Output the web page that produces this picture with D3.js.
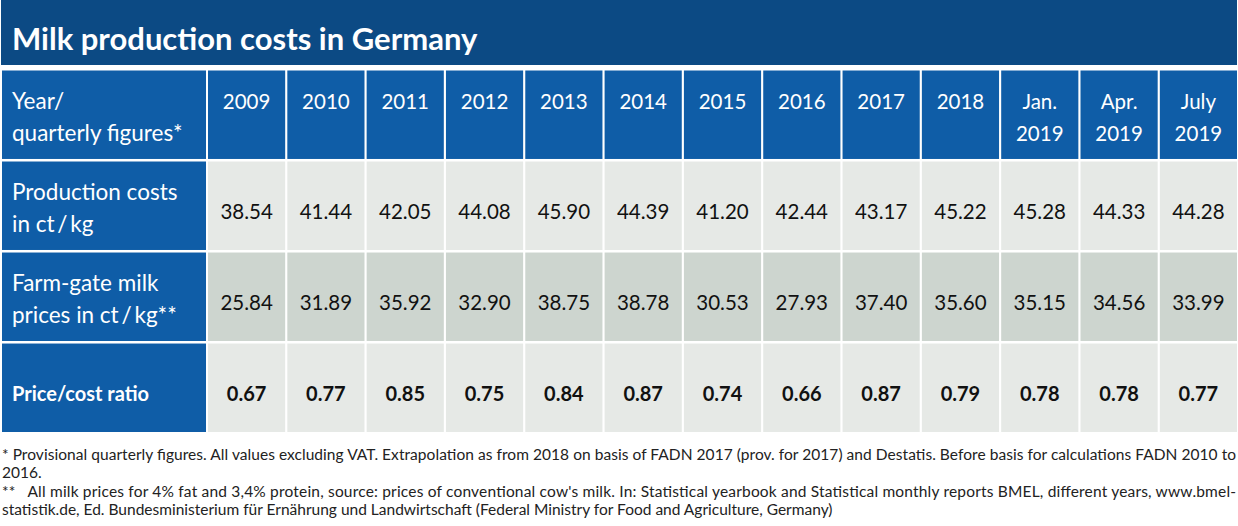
<!DOCTYPE html>
<html>
<head>
<meta charset="utf-8">
<script src="https://cdn.jsdelivr.net/npm/d3@7"></script>
<style>
  body { margin: 0; background: #fff; }
  svg { display: block; font-family: Lato, "Open Sans", sans-serif; }
</style>
</head>
<body>
<div id="chart"></div>
<script>
// DATA -----------------------------------------------------------------------

var title = "Milk production costs in Germany";
var columnLabels = [["2009"], ["2010"], ["2011"], ["2012"], ["2013"], ["2014"],
    ["2015"], ["2016"], ["2017"], ["2018"], ["Jan.", "2019"], ["Apr.", "2019"], ["July", "2019"]];
var rowLabels = [
    ["Year/", "quarterly figures*"],
    ["Production costs", "in ct\u2009/\u2009kg"],
    ["Farm-gate milk", "prices in ct\u2009/\u2009kg**"],
    ["Price/cost ratio"]
];
var productionCosts = [38.54, 41.44, 42.05, 44.08, 45.90, 44.39, 41.20, 42.44, 43.17, 45.22, 45.28, 44.33, 44.28];
var milkPrices = [25.84, 31.89, 35.92, 32.90, 38.75, 38.78, 30.53, 27.93, 37.40, 35.60, 35.15, 34.56, 33.99];
var priceCostRatio = [0.67, 0.77, 0.85, 0.75, 0.84, 0.87, 0.74, 0.66, 0.87, 0.79, 0.78, 0.78, 0.77];
var footnotes = [
    { text: "* Provisional quarterly figures. All values excluding VAT. Extrapolation as from 2018 on basis of FADN 2017 (prov. for 2017) and Destatis. Before basis for calculations FADN 2010 to", justify: true },
    { text: "2016.", justify: false },
    { text: "**\u00a0\u00a0 All milk prices for 4% fat and 3,4% protein, source: prices of conventional cow's milk. In: Statistical yearbook and Statistical monthly reports BMEL, different years, www.bmel-", justify: true },
    { text: "statistik.de, Ed. Bundesministerium für Ernährung und Landwirtschaft (Federal Ministry for Food and Agriculture, Germany)", justify: false }
];


// LAYOUT ---------------------------------------------------------------------

var width = 1238, height = 526;
var blueDark = "#0c4a84", blue = "#0f5da7", grayLight = "#e6e9e6", grayMid = "#cdd5cf";
var rowFills = [blue, grayLight, grayMid, grayLight];
var dataRows = [null, productionCosts, milkPrices, priceCostRatio];
var fmt = d3.format(".2f");

var svg = d3.select("#chart").append("svg")
    .attr("width", width)
    .attr("height", height);

var x = d3.scaleBand()
    .domain(d3.range(columnLabels.length))
    .range([208, 1237])
    .paddingInner(0.027);

var y = d3.scaleBand()
    .domain(d3.range(rowLabels.length))
    .range([70.5, 432])
    .paddingInner(0.028);

// title bar
svg.append("rect")
    .attr("x", 1).attr("y", 0)
    .attr("width", 1236).attr("height", 65)
    .attr("fill", blueDark);

svg.append("text")
    .attr("x", 12).attr("y", 50)
    .attr("fill", "#fff")
    .attr("font-size", 31)
    .attr("font-weight", "bold")
    .text(title);


// ROWS -----------------------------------------------------------------------

rowLabels.forEach(function(lines, r) {
    var y0 = y(r), mid = y0 + y.bandwidth() / 2;

    // label cell
    svg.append("rect")
        .attr("x", 2).attr("y", y0)
        .attr("width", 204).attr("height", y.bandwidth())
        .attr("fill", blue);

    var isBold = r == 3;
    var label = svg.append("text")
        .attr("x", 12)
        .attr("fill", "#fff")
        .attr("font-size", isBold ? 20 : 22.5)
        .attr("font-weight", isBold ? "bold" : "normal");
    lines.forEach(function(line, i) {
        var yy = lines.length > 1 ? mid - 5.5 + i * 32 : mid + 13;
        label.append("tspan").attr("x", 12).attr("y", yy).text(line);
    });

    // value cells
    var cells = svg.append("g").selectAll("g")
        .data(columnLabels)
        .enter().append("g")
        .attr("transform", function(d, i) { return "translate(" + x(i) + "," + y0 + ")"; });

    cells.append("rect")
        .attr("width", x.bandwidth())
        .attr("height", y.bandwidth())
        .attr("fill", rowFills[r]);

    if (r == 0) {
        // column headers
        cells.append("text")
            .attr("text-anchor", "middle")
            .attr("fill", "#fff")
            .attr("font-size", 20.5)
            .selectAll("tspan")
            .data(function(d) { return d; })
            .enter().append("tspan")
            .attr("x", x.bandwidth() / 2)
            .attr("y", function(d, i) { return y.bandwidth() / 2 - 5.5 + i * 32; })
            .text(function(d) { return d; });
    } else {
        var values = dataRows[r];
        cells.append("text")
            .attr("x", x.bandwidth() / 2)
            .attr("y", y.bandwidth() / 2 + 13)
            .attr("text-anchor", "middle")
            .attr("fill", "#111")
            .attr("font-size", isBold ? 20 : 20.5)
            .attr("font-weight", isBold ? "bold" : "normal")
            .text(function(d, i) { return fmt(values[i]); });
    }
});


// FOOTNOTES ------------------------------------------------------------------

var noteY = [460, 478, 497, 515];
footnotes.forEach(function(note, i) {
    var t = svg.append("text")
        .attr("x", 2)
        .attr("y", noteY[i])
        .attr("fill", "#222")
        .attr("font-size", 15.5)
        .text(note.text);
    if (note.justify)
        t.attr("textLength", 1234).attr("lengthAdjust", "spacing");
});
</script>
</body>
</html>
